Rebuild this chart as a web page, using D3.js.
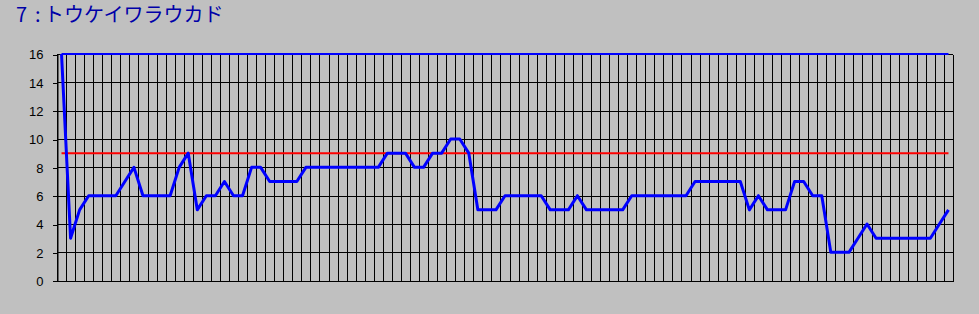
<!DOCTYPE html>
<html>
<head>
<meta charset="utf-8">
<script src="https://cdn.jsdelivr.net/npm/d3@7"></script>
<style>
  html, body { margin: 0; padding: 0; background: #c0c0c0; }
  svg { display: block; }
</style>
</head>
<body>
<svg></svg>
<script>
const width = 979, height = 314;
const margin = {top: 54, right: 26, bottom: 33, left: 57};

const titleParts = ["7", ":", "トウケイワラウカド"];

// one value per race, left to right
const values = [
    16, 3, 5, 6, 6, 6, 6, 7, 8, 6,
    6, 6, 6, 8, 9, 5, 6, 6, 7, 6,
    6, 8, 8, 7, 7, 7, 7, 8, 8, 8,
    8, 8, 8, 8, 8, 8, 9, 9, 9, 8,
    8, 9, 9, 10, 10, 9, 5, 5, 5, 6,
    6, 6, 6, 6, 5, 5, 5, 6, 5, 5,
    5, 5, 5, 6, 6, 6, 6, 6, 6, 6,
    7, 7, 7, 7, 7, 7, 5, 6, 5, 5,
    5, 7, 7, 6, 6, 2, 2, 2, 3, 4,
    3, 3, 3, 3, 3, 3, 3, 4, 5
];
const categories = values.map((d, i) => i + 1);

const upperLimit = 16;
const targetLevel = 9;
const yTicks = [0, 2, 4, 6, 8, 10, 12, 14, 16];

const svg = d3.select('svg')
    .attr('width', width)
    .attr('height', height);

const x = d3.scaleBand()
    .domain(categories)
    .range([margin.left, width - margin.right])
    .paddingInner(0)
    .paddingOuter(0);

const y = d3.scaleLinear()
    .domain([0, 16])
    .range([height - margin.bottom - 0.3, margin.top]);

const cx = d => x(d) + x.bandwidth() / 2;
const snap = v => Math.round(v) + 0.5;

// title: number, colon and name set apart like the original
const titleX = [16, 35, 44];
svg.append('text')
    .attr('y', 22)
    .attr('fill', '#0000a8')
    .style('font-family', '"Noto Sans CJK JP", sans-serif')
    .style('font-size', '20px')
    .selectAll('tspan')
    .data(titleParts)
    .enter().append('tspan')
    .attr('x', (d, i) => titleX[i])
    .text(d => d);

// horizontal grid
svg.append('g')
    .selectAll('line')
    .data(yTicks)
    .enter().append('line')
    .attr('x1', margin.left)
    .attr('x2', width - margin.right)
    .attr('y1', d => snap(y(d)))
    .attr('y2', d => snap(y(d)))
    .attr('stroke', '#000')
    .attr('shape-rendering', 'crispEdges');

// vertical grid at category boundaries
const bounds = categories.map(d => x(d)).concat([x(categories[categories.length - 1]) + x.bandwidth()]);
svg.append('g')
    .selectAll('line')
    .data(bounds)
    .enter().append('line')
    .attr('x1', d => snap(d))
    .attr('x2', d => snap(d))
    .attr('y1', snap(y(16)))
    .attr('y2', snap(y(0)))
    .attr('stroke', '#000')
    .attr('shape-rendering', 'crispEdges');

// y axis
const yAxis = svg.append('g')
    .attr('transform', 'translate(' + (margin.left + 0.5) + ',0.5)')
    .call(d3.axisLeft(y).tickValues(yTicks).tickSize(5).tickSizeOuter(0).tickPadding(9));
yAxis.select('.domain').attr('stroke', '#000');
yAxis.selectAll('.tick line').attr('stroke', '#000').attr('shape-rendering', 'crispEdges');
yAxis.selectAll('.tick text')
    .attr('fill', '#000')
    .style('font-family', '"Liberation Sans", Arial, sans-serif')
    .style('font-size', '13px');

const first = categories[0], last = categories[categories.length - 1];

// upper limit line
svg.append('line')
    .attr('x1', cx(first)).attr('x2', cx(last))
    .attr('y1', y(upperLimit)).attr('y2', y(upperLimit))
    .attr('stroke', '#0000ff')
    .attr('stroke-width', 2.2);

// target level
svg.append('line')
    .attr('x1', cx(first)).attr('x2', cx(last))
    .attr('y1', y(targetLevel)).attr('y2', y(targetLevel))
    .attr('stroke', '#ff0000')
    .attr('stroke-width', 2);

const line = d3.line()
    .x((d, i) => cx(categories[i]))
    .y(d => y(d));

svg.append('path')
    .datum(values)
    .attr('d', line)
    .attr('fill', 'none')
    .attr('stroke', '#0000ff')
    .attr('stroke-width', 3)
    .attr('stroke-linejoin', 'round');
</script>
</body>
</html>
